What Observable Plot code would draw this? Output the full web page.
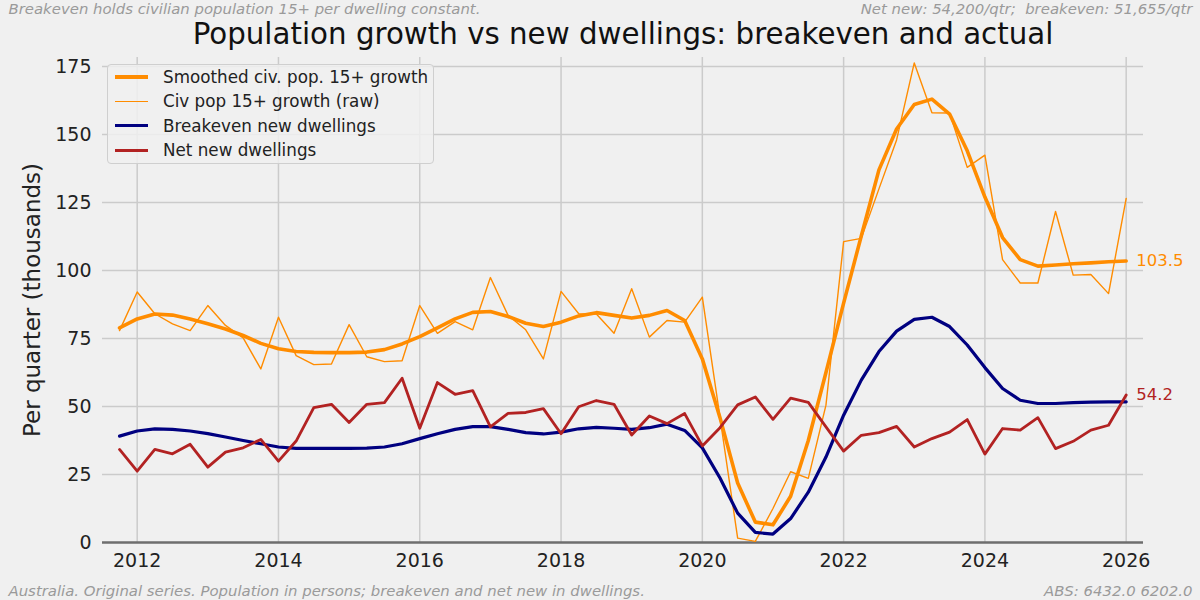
<!DOCTYPE html>
<html>
<head>
<meta charset="utf-8">
<script src="https://cdn.jsdelivr.net/npm/d3@7"></script>
<script src="https://cdn.jsdelivr.net/npm/@observablehq/plot@0.6"></script>
<style>
  html, body { margin: 0; padding: 0; background: #f0f0f0; }
  #wrap { position: relative; width: 1200px; height: 600px; overflow: hidden; font-family: "DejaVu Sans", sans-serif; }
  #legend { position: absolute; left: 107px; top: 64px; width: 327px; height: 100px; border: 1px solid #cfcfcf; border-radius: 4px; background: rgba(240,240,240,0.85); box-sizing: border-box; }
  .row { position: absolute; left: 0; height: 24px; display: flex; align-items: center; font-size: 16.75px; color: #222; white-space: nowrap; }
  .sw { display: inline-block; width: 33px; margin-left: 7px; margin-right: 15px; }
</style>
</head>
<body>
<div id="wrap"></div>
<script>
// Quarterly series, first quarter = 2011 Q3 (plotted at quarter end), in thousands per quarter
const firstQuarterEnd = 2011.75;
const popRaw = [77.9, 92.1, 84.1, 80.4, 77.9, 87.1, 79.8, 75.2, 63.8, 82.8,
  68.7, 65.4, 65.6, 80.1, 68.3, 66.5, 66.8, 87.1, 76.9, 81.2,
  78.2, 97.4, 83.5, 78.2, 67.5, 92.3, 84.1, 84.0, 76.9, 93.3,
  75.5, 81.6, 81.0, 90.2, 46.0, 1.6, 0.4, 12.5, 26.0, 23.6,
  50.5, 110.6, 111.8, 130.0, 148.0, 176.3, 158.0, 157.9, 137.9, 142.4,
  104.0, 95.4, 95.4, 121.7, 98.3, 98.5, 91.5, 126.5];
const popSmoothed = [78.9, 82.2, 84.0, 83.6, 82.2, 80.4, 78.5, 76.1, 73.2, 71.2,
  70.2, 69.9, 69.8, 69.8, 70.0, 70.9, 73.0, 75.7, 78.9, 82.2,
  84.6, 84.9, 83.1, 80.6, 79.4, 81.0, 83.3, 84.5, 83.5, 82.5,
  83.5, 85.3, 81.6, 67.5, 45.9, 21.9, 7.5, 6.5, 17.0, 37.5,
  62.5, 88.0, 112.7, 137.0, 152.0, 161.0, 163.0, 157.5, 144.0, 127.0,
  112.1, 104.0, 101.6, 102.0, 102.5, 102.8, 103.2, 103.5];
const breakeven = [39.1, 41.0, 41.8, 41.6, 41.0, 40.0, 38.8, 37.5, 36.3, 35.1,
  34.6, 34.6, 34.6, 34.6, 34.7, 35.1, 36.3, 38.2, 40.0, 41.6,
  42.6, 42.6, 41.6, 40.4, 39.9, 40.6, 41.8, 42.3, 42.0, 41.6,
  42.2, 43.5, 41.2, 34.8, 23.7, 10.8, 3.7, 3.1, 8.8, 18.5,
  31.4, 46.8, 59.7, 70.2, 77.7, 82.0, 82.8, 79.4, 72.6, 64.3,
  56.6, 52.3, 51.1, 51.1, 51.4, 51.6, 51.7, 51.7];
const netNew = [34.2, 26.2, 34.2, 32.6, 36.1, 27.7, 33.2, 34.8, 37.9, 29.9,
  37.3, 49.6, 50.8, 44.1, 50.8, 51.4, 60.4, 42.0, 58.8, 54.5,
  55.8, 42.5, 47.5, 47.8, 49.2, 40.0, 49.9, 52.2, 50.8, 39.5,
  46.5, 43.7, 47.4, 35.5, 42.2, 50.6, 53.5, 45.3, 53.1, 51.5,
  42.5, 33.6, 39.4, 40.4, 42.7, 35.1, 38.2, 40.6, 45.2, 32.5,
  41.9, 41.3, 45.9, 34.5, 37.2, 41.3, 43.1, 54.2];
const xTicks = [2012, 2014, 2016, 2018, 2020, 2022, 2024, 2026];
const yTicks = [0, 25, 50, 75, 100, 125, 150, 175];

const seriesNames = ["Smoothed civ. pop. 15+ growth", "Civ pop 15+ growth (raw)", "Breakeven new dwellings", "Net new dwellings"];
const seriesColors = ["#ff8c00", "#ff8c00", "#000080", "#b22222"];
const seriesWidths = [3.6, 1.4, 3.2, 2.8];

const titleText = "Population growth vs new dwellings: breakeven and actual";
const topLeft = "Breakeven holds civilian population 15+ per dwelling constant.";
const topRight = "Net new: 54,200/qtr;  breakeven: 51,655/qtr";
const bottomLeft = "Australia. Original series. Population in persons; breakeven and net new in dwellings.";
const bottomRight = "ABS: 6432.0 6202.0";
const yLabel = "Per quarter (thousands)";

const rows = popRaw.map((v, i) => ({
  t: firstQuarterEnd + i * 0.25,
  raw: v, smooth: popSmoothed[i], be: breakeven[i], net: netNew[i]
}));
const last = rows[rows.length - 1];

const font = "DejaVu Sans, sans-serif";
const grey = "#9a9a9a";
const cornerSize = 14.9;

const chart = Plot.plot({
  width: 1200,
  height: 600,
  marginLeft: 102,
  marginRight: 57,
  marginTop: 57,
  marginBottom: 58,
  style: { background: "transparent", fontFamily: font, overflow: "visible" },
  x: { domain: [2011.509, 2026.245], label: null },
  y: { domain: [0, 178.3], label: null },
  marks: [
    Plot.gridX(xTicks, { stroke: "#cbcbcb", strokeOpacity: 1, strokeWidth: 1.5 }),
    Plot.gridY(yTicks.filter(d => d > 0), { stroke: "#cbcbcb", strokeOpacity: 1, strokeWidth: 1.5 }),
    Plot.ruleY([0], { stroke: "#6e6e6e", strokeWidth: 2.5 }),
    Plot.axisX(xTicks, { tickSize: 0, tickPadding: 11, fontSize: 19, fill: "#222", label: null, tickFormat: d => String(d) }),
    Plot.axisY(yTicks, { tickSize: 0, tickPadding: 11, fontSize: 19, fill: "#222", label: null }),
    Plot.line(rows, { x: "t", y: "smooth", stroke: seriesColors[0], strokeWidth: seriesWidths[0] }),
    Plot.line(rows, { x: "t", y: "raw", stroke: seriesColors[1], strokeWidth: seriesWidths[1] }),
    Plot.line(rows, { x: "t", y: "be", stroke: seriesColors[2], strokeWidth: seriesWidths[2] }),
    Plot.line(rows, { x: "t", y: "net", stroke: seriesColors[3], strokeWidth: seriesWidths[3] }),
    Plot.text([last], { x: "t", y: "smooth", text: d => d.smooth.toFixed(1), dx: 10, textAnchor: "start", fill: "#ff8c00", fontSize: 16.5 }),
    Plot.text([last], { x: "t", y: "net", text: d => d.net.toFixed(1), dx: 10, textAnchor: "start", fill: "#b22222", fontSize: 16.5 }),
    Plot.text([yLabel], { frameAnchor: "left", rotate: -90, dx: -70, textAnchor: "middle", fontSize: 23, fill: "#222" }),
    Plot.text([titleText], { frameAnchor: "top", dy: -23, lineAnchor: "middle", fontSize: 29.3, fill: "#111" }),
    Plot.text([topLeft], { frameAnchor: "top-left", dx: -94, dy: -48, textAnchor: "start", lineAnchor: "middle", fontSize: cornerSize, fontStyle: "italic", fill: grey }),
    Plot.text([topRight], { frameAnchor: "top-right", dx: 49, dy: -48, textAnchor: "end", lineAnchor: "middle", fontSize: cornerSize, fontStyle: "italic", fill: grey }),
    Plot.text([bottomLeft], { frameAnchor: "bottom-left", dx: -94, dy: 49, textAnchor: "start", lineAnchor: "middle", fontSize: cornerSize, fontStyle: "italic", fill: grey }),
    Plot.text([bottomRight], { frameAnchor: "bottom-right", dx: 49, dy: 49, textAnchor: "end", lineAnchor: "middle", fontSize: cornerSize, fontStyle: "italic", fill: grey })
  ]
});

const wrap = document.getElementById("wrap");
wrap.appendChild(chart);

const legend = document.createElement("div");
legend.id = "legend";
seriesNames.forEach((name, i) => {
  const row = document.createElement("div");
  row.className = "row";
  row.style.top = (i * 24.4) + "px";
  const sw = document.createElement("span");
  sw.className = "sw";
  sw.style.height = seriesWidths[i] + "px";
  sw.style.background = seriesColors[i];
  row.appendChild(sw);
  row.appendChild(document.createTextNode(name));
  legend.appendChild(row);
});
wrap.appendChild(legend);
</script>
</body>
</html>
